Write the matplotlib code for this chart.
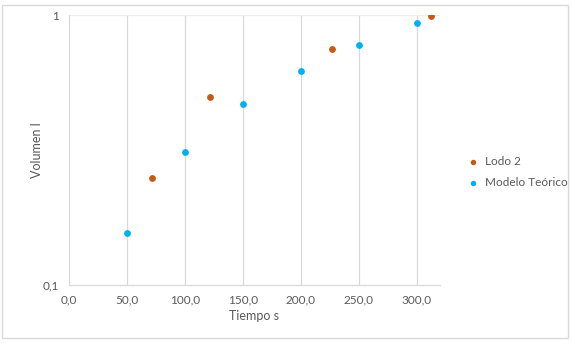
import matplotlib.pyplot as plt
from matplotlib.ticker import FuncFormatter, FixedLocator, NullLocator
from matplotlib.patches import Rectangle

plt.rcParams['font.family'] = ['Lato', 'DejaVu Sans']

# data
lodo_t = [72, 122, 227, 312]
lodo_v = [0.249, 0.497, 0.748, 0.996]
modelo_t = [50, 100, 150, 200, 250, 300]
modelo_v = [0.156, 0.311, 0.468, 0.620, 0.774, 0.934]
x_ticks = [0, 50, 100, 150, 200, 250, 300]

gray = '#595959'
grid = '#D9D9D9'

fig = plt.figure(figsize=(5.72, 3.44), dpi=100)
ax = fig.add_axes([0.1206, 0.1715, 0.6485, 0.7845])

ax.scatter(lodo_t, lodo_v, s=24, color='#C55A11', label='Lodo 2', zorder=3, linewidths=0)
ax.scatter(modelo_t, modelo_v, s=24, color='#00B0F0', label='Modelo Teórico', zorder=3, linewidths=0)

ax.set_yscale('log')
ax.set_ylim(0.1, 1)
ax.set_xlim(0, 320)
ax.xaxis.set_major_locator(FixedLocator(x_ticks))
ax.yaxis.set_major_locator(FixedLocator([0.1, 1]))
ax.yaxis.set_minor_locator(NullLocator())
ax.xaxis.set_major_formatter(FuncFormatter(lambda v, p: f'{v:.1f}'.replace('.', ',')))
ax.yaxis.set_major_formatter(FuncFormatter(lambda v, p: '1' if v >= 1 else '0,1'))

for v in x_ticks[1:]:
    ax.axvline(v, color=grid, lw=0.9, zorder=1)
ax.axhline(1, color='#EFEFEF', lw=0.9, zorder=1)

for s in ['top', 'right']:
    ax.spines[s].set_visible(False)
for s in ['left', 'bottom']:
    ax.spines[s].set_color(grid)
    ax.spines[s].set_linewidth(0.9)

ax.tick_params(axis='both', length=0, colors=gray, labelsize=8.5, pad=7)
ax.set_xlabel('Tiempo s', color=gray, fontsize=9, labelpad=3)
ax.set_ylabel('Volumen l', color=gray, fontsize=9, labelpad=0)

leg = ax.legend(loc='center left', bbox_to_anchor=(1.045, 0.42), frameon=False,
                fontsize=8.5, handletextpad=0.0, labelspacing=0.85,
                markerscale=0.8, borderaxespad=0)
for t in leg.get_texts():
    t.set_color(gray)

fig.patches.append(Rectangle((0.003, 0.017), 0.99, 0.968, transform=fig.transFigure,
                             fill=False, edgecolor='#D9D9D9', lw=1))

fig.savefig('out.png', dpi=100)
